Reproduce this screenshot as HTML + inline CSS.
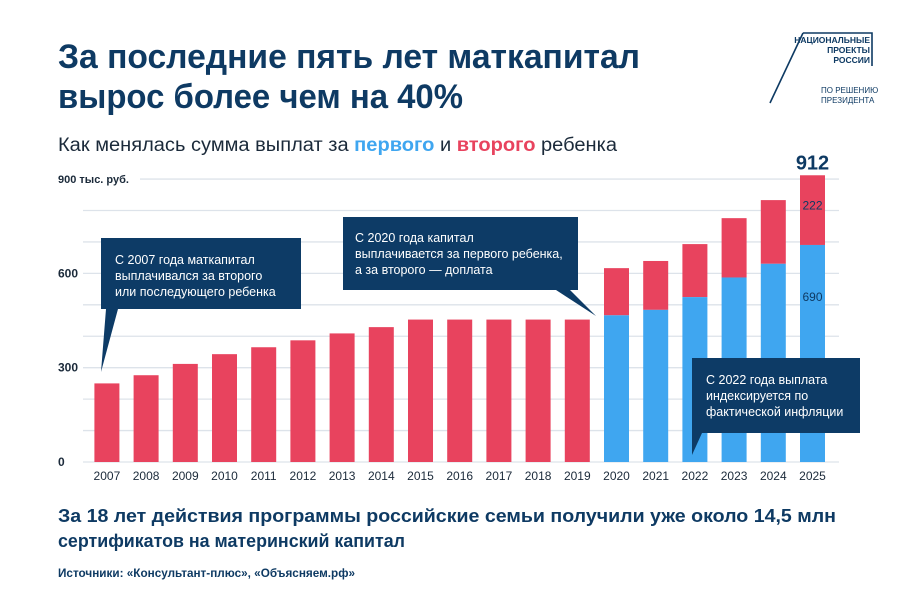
<!DOCTYPE html>
<html><head><meta charset="utf-8"><style>
html,body{margin:0;padding:0;background:#fff;}
svg{display:block;font-family:"Liberation Sans",sans-serif;}
</style></head><body>
<svg id="c" width="900" height="600" viewBox="0 0 900 600">
<g fill="#0e3a63" font-weight="bold" font-size="34">
<text x="58" y="68" textLength="582" lengthAdjust="spacingAndGlyphs">За последние пять лет маткапитал</text>
<text x="58" y="108" textLength="405" lengthAdjust="spacingAndGlyphs">вырос более чем на 40%</text>
</g>
<text x="58" y="151" font-size="19" fill="#1b2a3a" textLength="559" lengthAdjust="spacingAndGlyphs">Как менялась сумма выплат за <tspan fill="#3fa6f0" font-weight="bold">первого</tspan> и <tspan fill="#e8435e" font-weight="bold">второго</tspan> ребенка</text>
<g>
<path d="M803,33 L872,33 L872,66 M803,33 L770,103" fill="none" stroke="#0e3a63" stroke-width="1.6"/>
<text x="870" y="43" font-size="8.5" font-weight="bold" fill="#0e3a63" text-anchor="end">НАЦИОНАЛЬНЫЕ</text>
<text x="870" y="53" font-size="8.5" font-weight="bold" fill="#0e3a63" text-anchor="end">ПРОЕКТЫ</text>
<text x="870" y="63" font-size="8.5" font-weight="bold" fill="#0e3a63" text-anchor="end">РОССИИ</text>
<text x="821" y="93" font-size="8" fill="#0e3a63">ПО РЕШЕНИЮ</text>
<text x="821" y="103" font-size="8" fill="#0e3a63">ПРЕЗИДЕНТА</text>
</g>
<g id="grid"></g>
<g id="bars"></g>
<g id="labels"></g>
<g>
<path d="M101,238 H301 V309 H118 L101,372 L106,309 H101 Z" fill="#0d3b66"/>
<text x="115" y="264" font-size="12.5" fill="#fff">С 2007 года маткапитал</text>
<text x="115" y="280" font-size="12.5" fill="#fff">выплачивался за второго</text>
<text x="115" y="296" font-size="12.5" fill="#fff">или последующего ребенка</text>
</g>
<g>
<path d="M343,217 H578 V290 H570 L596,316 L556,290 H343 Z" fill="#0d3b66"/>
<text x="355" y="242" font-size="12.5" fill="#fff">С 2020 года капитал</text>
<text x="355" y="258" font-size="12.5" fill="#fff">выплачивается за первого ребенка,</text>
<text x="355" y="274" font-size="12.5" fill="#fff">а за второго — доплата</text>
</g>
<g>
<path d="M692,358 H860 V433 H702 L692,455 L692,433 Z" fill="#0d3b66"/>
<text x="706" y="384" font-size="12.5" fill="#fff">С 2022 года выплата</text>
<text x="706" y="400" font-size="12.5" fill="#fff">индексируется по</text>
<text x="706" y="416" font-size="12.5" fill="#fff">фактической инфляции</text>
</g>
<g fill="#0e3a63" font-weight="bold" font-size="18">
<text x="58" y="522" textLength="778" lengthAdjust="spacingAndGlyphs">За 18 лет действия программы российские семьи получили уже около 14,5 млн</text>
<text x="58" y="547" textLength="347" lengthAdjust="spacingAndGlyphs">сертификатов на материнский капитал</text>
</g>
<text x="58" y="577" font-size="11.5" font-weight="bold" fill="#0e3a63" textLength="297" lengthAdjust="spacingAndGlyphs">Источники: «Консультант-плюс», «Объясняем.рф»</text>
</svg>
<script>
const years=["2007","2008","2009","2010","2011","2012","2013","2014","2015","2016","2017","2018","2019","2020","2021","2022","2023","2024","2025"];
const firstChild=[0,0,0,0,0,0,0,0,0,0,0,0,0,466.6,483.9,524.5,586.9,630.4,690.3];
const totals=[250,276,312,343,365,387,409,429,453,453,453,453,453,616.6,639.4,693.1,775.6,833,912];
const yTicks=[0,300,600,900];
const NS="http://www.w3.org/2000/svg";
const y0=462,ppu=0.3144,x0=106.9,step=39.2,bw=25;
const y=v=>y0-v*ppu, x=i=>x0+i*step;
function mk(t,a,p){const e=document.createElementNS(NS,t);for(const k in a)e.setAttribute(k,a[k]);p.appendChild(e);return e;}
const grid=document.getElementById('grid'),bars=document.getElementById('bars'),lab=document.getElementById('labels');
for(let v=0;v<=900;v+=100){
 const l=mk('line',{x1:v===900?140:83,x2:839,y1:y(v),y2:y(v),stroke:'#dde3ea','stroke-width':1.3},grid);
 
 
}
yTicks.forEach(v=>{
 const t=mk('text',{x:58,y:y(v)+4,'font-size':v===900?11:12,'font-weight':'bold',fill:'#1b2a3a'},lab);
 t.textContent=v===900?'900 тыс. руб.':String(v);
 
 
});
years.forEach((yr,i)=>{
 const cx=x(i);
 const r=mk('rect',{x:cx-bw/2,y:y(totals[i]),width:bw,height:(totals[i]-firstChild[i])*ppu,fill:'#e8435e'},bars);
 
 
 if(firstChild[i]>0){
  const b=mk('rect',{x:cx-bw/2,y:y(firstChild[i]),width:bw,height:firstChild[i]*ppu,fill:'#3fa6f0'},bars);
  
  
 }
 const t=mk('text',{x:cx,y:480,'font-size':12,'text-anchor':'middle',fill:'#1b2a3a'},lab);
 t.textContent=yr;
 
 
});
const L=years.length-1,cx=x(L);
let t=mk('text',{x:cx,y:y(totals[L])-6,'font-size':20,'font-weight':'bold','text-anchor':'middle',fill:'#0e3a63'},lab);
t.textContent=String(totals[L]);


t=mk('text',{x:cx,y:y(totals[L])+34,'font-size':12,'text-anchor':'middle',fill:'#0e3a63'},lab);
t.textContent=String(Math.round(totals[L]-firstChild[L]));


t=mk('text',{x:cx,y:y(firstChild[L])+56,'font-size':12,'text-anchor':'middle',fill:'#0e3a63'},lab);
t.textContent=String(Math.round(firstChild[L]));


</script>
</body></html>
